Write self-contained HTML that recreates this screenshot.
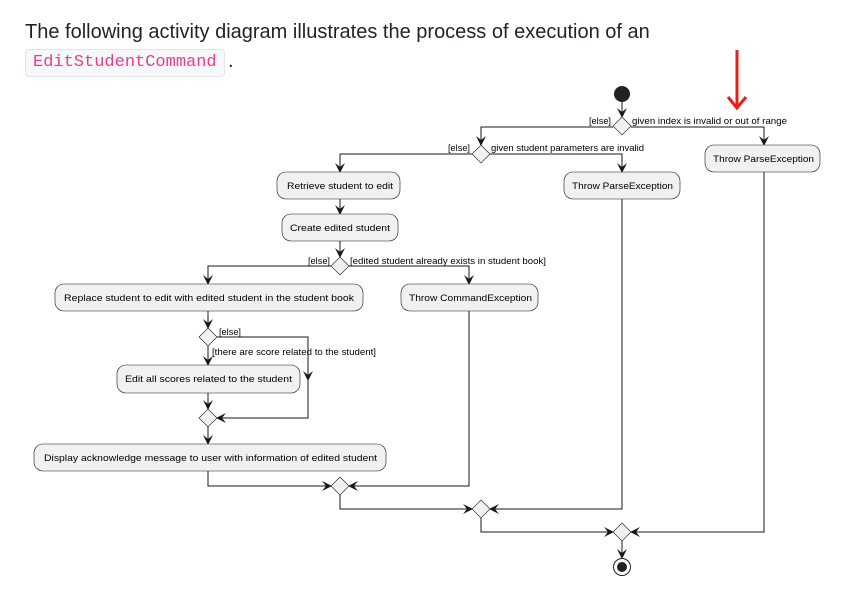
<!DOCTYPE html>
<html><head><meta charset="utf-8"><style>
html,body{margin:0;padding:0;background:#fff;width:859px;height:604px;overflow:hidden}
.t{position:absolute;left:25px;top:21px;font:20px "Liberation Sans",sans-serif;color:#1f2328;white-space:nowrap}
.c{position:absolute;left:25px;top:49px;width:200px;height:28px;background:#f6f8fa;border:1px solid #e1e4e8;border-radius:4px;box-sizing:border-box;font:17px "Liberation Mono",monospace;color:#e83e8c;line-height:26px;padding-left:7px}
.d{position:absolute;left:228px;top:50px;font:20px "Liberation Sans",sans-serif;color:#1f2328}
svg{position:absolute;left:0;top:0}
text{font-family:"Liberation Sans",sans-serif;font-size:9.5px;fill:#000}
</style></head><body>
<div class="t">The following activity diagram illustrates the process of execution of an</div>
<div class="c">EditStudentCommand</div><div class="d">.</div>
<svg width="859" height="604" viewBox="0 0 859 604">
<defs><marker id="a" markerWidth="10" markerHeight="10" refX="9" refY="5" orient="auto" markerUnits="userSpaceOnUse"><path d="M0,0 L10,5 L0,10 L4,5 Z" fill="#181818"/></marker></defs>
<g fill="none" stroke="#181818" stroke-width="1">
<path d="M737,50 V106" stroke="#e0201b" stroke-width="3"/>
<path d="M728,97 L737,108 L746,97" stroke="#e0201b" stroke-width="3"/>
<path d="M622,102 V117" marker-end="url(#a)"/>
<path d="M613,127 H481 V145" marker-end="url(#a)"/>
<path d="M631,127 H764 V145" marker-end="url(#a)"/>
<path d="M472,154 H340 V172" marker-end="url(#a)"/>
<path d="M490,154 H622 V172" marker-end="url(#a)"/>
<path d="M340,199 V214" marker-end="url(#a)"/>
<path d="M340,241 V257" marker-end="url(#a)"/>
<path d="M331,266 H208 V284" marker-end="url(#a)"/>
<path d="M349,266 H469 V284" marker-end="url(#a)"/>
<path d="M208,311 V328" marker-end="url(#a)"/>
<path d="M208,346 V365" marker-end="url(#a)"/>
<path d="M217,337 H308 V380" marker-end="url(#a)"/>
<path d="M308,378 V418 H217" marker-end="url(#a)"/>
<path d="M208,393 V409" marker-end="url(#a)"/>
<path d="M208,427 V444" marker-end="url(#a)"/>
<path d="M208,471 V486 H331" marker-end="url(#a)"/>
<path d="M469,311 V486 H349" marker-end="url(#a)"/>
<path d="M340,495 V509 H472" marker-end="url(#a)"/>
<path d="M622,199 V509 H490" marker-end="url(#a)"/>
<path d="M481,518 V532 H613" marker-end="url(#a)"/>
<path d="M764,172 V532 H631" marker-end="url(#a)"/>
<path d="M622,541 V558" marker-end="url(#a)"/>
</g>
<circle cx="622" cy="94" r="8" fill="#222"/>
<circle cx="622" cy="567" r="8.5" fill="#fff" stroke="#222"/>
<circle cx="622" cy="567" r="5" fill="#222"/>
<g fill="#f1f1f1" stroke="#181818" stroke-width="0.6">
<path d="M622,117 L631,126 L622,135 L613,126 Z"/>
<path d="M481,145 L490,154 L481,163 L472,154 Z"/>
<path d="M340,257 L349,266 L340,275 L331,266 Z"/>
<path d="M208,328 L217,337 L208,346 L199,337 Z"/>
<path d="M208,409 L217,418 L208,427 L199,418 Z"/>
<path d="M340,477 L349,486 L340,495 L331,486 Z"/>
<path d="M481,500 L490,509 L481,518 L472,509 Z"/>
<path d="M622,523 L631,532 L622,541 L613,532 Z"/>
<rect x="705" y="145" width="115" height="27" rx="9"/>
<rect x="277" y="172" width="123" height="27" rx="9"/>
<rect x="564" y="172" width="116" height="27" rx="9"/>
<rect x="282" y="214" width="116" height="27" rx="9"/>
<rect x="55" y="284" width="308" height="27" rx="9"/>
<rect x="401" y="284" width="137" height="27" rx="9"/>
<rect x="117" y="365" width="183" height="28" rx="9"/>
<rect x="34" y="444" width="352" height="27" rx="9"/>
</g>
<g>
<text x="589" y="124" textLength="22" lengthAdjust="spacingAndGlyphs">[else]</text>
<text x="632" y="124" textLength="155" lengthAdjust="spacingAndGlyphs">given index is invalid or out of range</text>
<text x="448" y="151" textLength="22" lengthAdjust="spacingAndGlyphs">[else]</text>
<text x="491" y="151" textLength="153" lengthAdjust="spacingAndGlyphs">given student parameters are invalid</text>
<text x="713" y="162" textLength="101" lengthAdjust="spacingAndGlyphs">Throw ParseException</text>
<text x="287" y="189" textLength="106" lengthAdjust="spacingAndGlyphs">Retrieve student to edit</text>
<text x="572" y="189" textLength="101" lengthAdjust="spacingAndGlyphs">Throw ParseException</text>
<text x="290" y="231" textLength="100" lengthAdjust="spacingAndGlyphs">Create edited student</text>
<text x="308" y="264" textLength="22" lengthAdjust="spacingAndGlyphs">[else]</text>
<text x="350" y="264" textLength="196" lengthAdjust="spacingAndGlyphs">[edited student already exists in student book]</text>
<text x="64" y="301" textLength="290" lengthAdjust="spacingAndGlyphs">Replace student to edit with edited student in the student book</text>
<text x="409" y="301" textLength="123" lengthAdjust="spacingAndGlyphs">Throw CommandException</text>
<text x="219" y="335" textLength="22" lengthAdjust="spacingAndGlyphs">[else]</text>
<text x="212" y="355" textLength="164" lengthAdjust="spacingAndGlyphs">[there are score related to the student]</text>
<text x="125" y="382" textLength="167" lengthAdjust="spacingAndGlyphs">Edit all scores related to the student</text>
<text x="44" y="461" textLength="333" lengthAdjust="spacingAndGlyphs">Display acknowledge message to user with information of edited student</text>
</g>
</svg>
</body></html>
